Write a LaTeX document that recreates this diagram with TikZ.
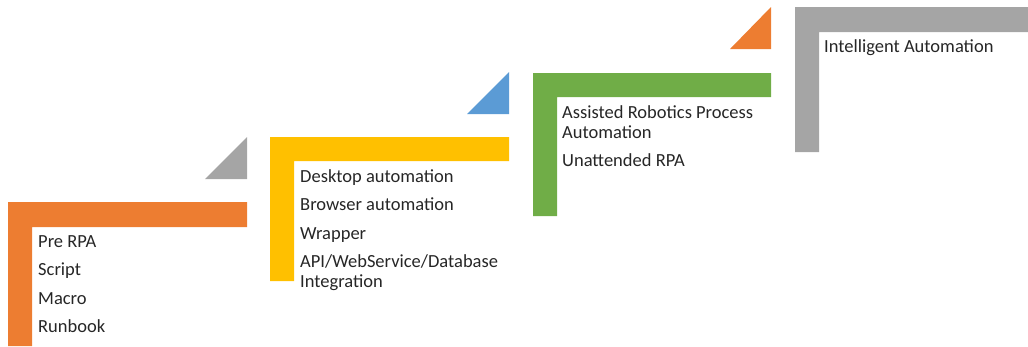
\documentclass[tikz,border=0pt]{standalone}
\usepackage{fontspec}
\setmainfont{Carlito}
\usepackage{tikz}
\definecolor{stageorange}{HTML}{ED7D31}
\definecolor{stagegray}{HTML}{A5A5A5}
\definecolor{stageyellow}{HTML}{FFC000}
\definecolor{stageblue}{HTML}{5B9BD5}
\definecolor{stagegreen}{HTML}{70AD47}

\begin{document}
\begin{tikzpicture}[x=1pt,y=-1pt]
	\useasboundingbox (0,0) rectangle (1028,346);

	% steps
	\fill[stageorange] (8,202) -- (247,202) -- (247,227) -- (32,227) -- (32,346) -- (8,346) -- cycle;
	\fill[stageyellow] (270,137) -- (509,137) -- (509,161) -- (294,161) -- (294,281) -- (270,281) -- cycle;
	\fill[stagegreen] (533,73) -- (771,73) -- (771,97) -- (557,97) -- (557,216) -- (533,216) -- cycle;
	\fill[stagegray] (795,7) -- (1028,7) -- (1028,32) -- (819,32) -- (819,152) -- (795,152) -- cycle;

	% corner triangles
	\fill[stagegray] (247,137) -- (247,179) -- (205,179) -- cycle;
	\fill[stageblue] (509,72) -- (509,114) -- (467,114) -- cycle;
	\fill[stageorange] (771,7) -- (771,49) -- (730,49) -- cycle;

	\begin{scope}[every node/.style={anchor=base west, inner sep=0pt,
	              font=\fontsize{18.5}{20}\selectfont, text=black!85}]
		\node (pre) at (38,247) {Pre RPA};
		\node (script) at (38,275.5) {Script};
		\node (macro) at (38,304) {Macro};
		\node (runbook) at (38,332.5) {Runbook};

		\node (desktop) at (300,182) {Desktop automation};
		\node (browser) at (300,210.5) {Browser automation};
		\node (wrapper) at (300,239) {Wrapper};
		\node (api) at (300,267.5) {API/WebService/Database};
		\node (integr) at (300,287.5) {Integration};

		\node (assisted) at (562,118) {Assisted Robotics Process};
		\node (assisted2) at (562,138) {Automation};
		\node (unattended) at (562,166.5) {Unattended RPA};

		\node (intelligent) at (824,52) {Intelligent Automation};
	\end{scope}
\end{tikzpicture}
\end{document}
